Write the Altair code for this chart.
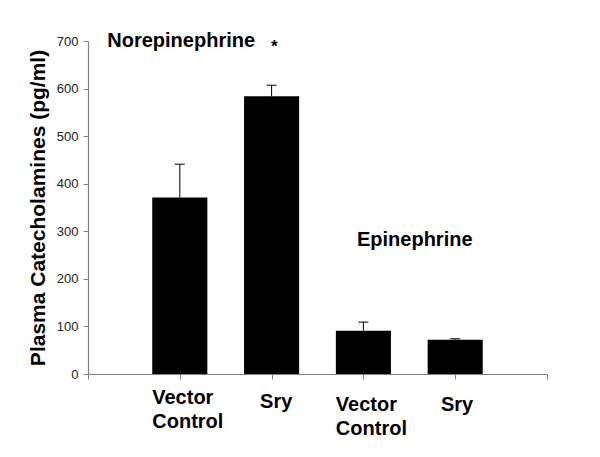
import altair as alt
import pandas as pd

positions = [1, 2, 3, 4]
groups = ["Norepinephrine", "Norepinephrine", "Epinephrine", "Epinephrine"]
treatments = ["Vector Control", "Sry", "Vector Control", "Sry"]
means = [371, 584, 91, 72]
errors = [70, 23, 18, 2]

label_x = [0.7, 2.05, 2.7, 4.02]
label_align = ["left", "center", "left", "center"]
label_line1 = ["Vector", "Sry", "Vector", "Sry"]
label_line2 = ["Control", "", "Control", ""]
label_y = [398, 402, 405, 405]

df = pd.DataFrame({"pos": positions, "group": groups, "treatment": treatments,
                   "mean": means, "err": errors})
df["lo"] = df["pos"] - 0.3
df["hi"] = df["pos"] + 0.3
df["top"] = df["mean"] + df["err"]

FONT = "Liberation Sans"
TOP = 41  # page y of plot top

xscale = alt.Scale(domain=[0, 5], nice=False, zero=False)
yscale = alt.Scale(domain=[0, 700], nice=False)

base = alt.Chart(df)

bars = base.mark_bar(color="black").encode(
    x=alt.X("lo:Q", scale=xscale,
            axis=alt.Axis(values=[0, 1, 2, 3, 4, 5], labels=False, title=None,
                          grid=False, domainColor="#808080", tickColor="#808080",
                          tickSize=5, domainWidth=1.2)),
    x2="hi:Q",
    y=alt.Y("mean:Q", scale=yscale,
            axis=alt.Axis(values=[0, 100, 200, 300, 400, 500, 600, 700],
                          title="Plasma Catecholamines (pg/ml)", grid=False,
                          domainColor="#808080", tickColor="#808080", tickSize=5,
                          domainWidth=1.2, labelFont=FONT, labelFontSize=13,
                          labelColor="#222", labelPadding=5, titleFont=FONT,
                          titleFontSize=21, titleFontWeight="bold",
                          titleColor="black", titlePadding=8)),
    y2=alt.datum(0),
)

err_line = base.mark_rule(color="black", strokeWidth=1).encode(
    x="pos:Q", y="mean:Q", y2="top:Q")
err_cap = base.mark_rule(color="black", strokeWidth=1, xOffset=-5, x2Offset=5).encode(
    x="pos:Q", x2="pos:Q", y="top:Q")

lab_rows = []
for i in range(len(label_x)):
    lab_rows.append({"x": label_x[i], "t": label_line1[i], "y": label_y[i] - TOP,
                     "a": label_align[i]})
    if label_line2[i]:
        lab_rows.append({"x": label_x[i], "t": label_line2[i],
                         "y": label_y[i] + 24 - TOP, "a": label_align[i]})
lab = pd.DataFrame(lab_rows)

text_left = alt.Chart(lab[lab["a"] == "left"]).mark_text(
    font=FONT, fontSize=20, fontWeight="bold", color="black", align="left",
    baseline="middle").encode(
    x=alt.X("x:Q", scale=xscale), y=alt.Y("y:Q", scale=None), text="t:N")
text_center = alt.Chart(lab[lab["a"] == "center"]).mark_text(
    font=FONT, fontSize=20, fontWeight="bold", color="black", align="center",
    baseline="middle").encode(
    x=alt.X("x:Q", scale=xscale), y=alt.Y("y:Q", scale=None), text="t:N")

annot_text = ["Norepinephrine", "Epinephrine"]
annot_x = [0.21, 2.93]
annot_y = [700, 282]
ann = pd.DataFrame({"t": annot_text, "x": annot_x, "y": annot_y})
annots = alt.Chart(ann).mark_text(font=FONT, fontSize=20, fontWeight="bold",
                                   color="black", align="left", baseline="middle").encode(
    x=alt.X("x:Q", scale=xscale), y=alt.Y("y:Q", scale=yscale), text="t:N")

star = alt.Chart(pd.DataFrame({"t": ["*"], "x": [2.03], "y": [688]})).mark_text(
    font=FONT, fontSize=17, fontWeight="bold", color="black", align="center",
    baseline="middle").encode(
    x=alt.X("x:Q", scale=xscale), y=alt.Y("y:Q", scale=yscale), text="t:N")

chart = alt.layer(bars, err_line, err_cap, text_left, text_center, annots, star).properties(
    width=459, height=333,
    background="white",
    autosize=alt.AutoSizeParams(type="none"),
    padding={"left": 80, "top": 33, "right": 20, "bottom": 75},
).configure_view(stroke=None)

chart.save("out.html", embed_options={"renderer": "svg", "actions": False})
